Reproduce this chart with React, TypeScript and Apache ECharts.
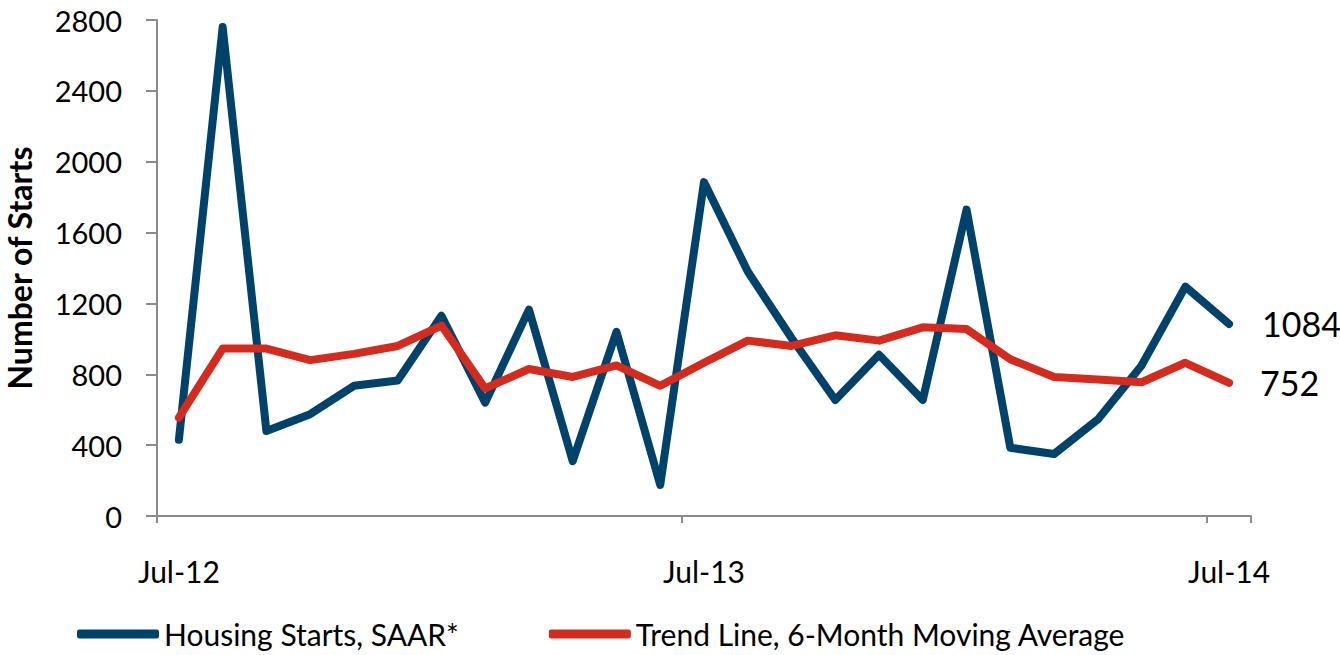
import React, { useEffect, useRef } from "react";
import * as echarts from "echarts";

const months = [
  "Jul-12", "Aug-12", "Sep-12", "Oct-12", "Nov-12", "Dec-12",
  "Jan-13", "Feb-13", "Mar-13", "Apr-13", "May-13", "Jun-13",
  "Jul-13", "Aug-13", "Sep-13", "Oct-13", "Nov-13", "Dec-13",
  "Jan-14", "Feb-14", "Mar-14", "Apr-14", "May-14", "Jun-14", "Jul-14",
];

const housingStarts = [
  430, 2760, 480, 575, 735, 765, 1130, 640, 1165, 310, 1040, 175,
  1885, 1380, 1005, 655, 910, 655, 1730, 385, 350, 545, 850, 1295, 1084,
];

const trendLine = [
  555, 945, 945, 880, 915, 960, 1075, 720, 830, 785, 850, 735,
  865, 990, 960, 1020, 990, 1065, 1055, 885, 785, 770, 755, 865, 752,
];

const yTicks = { min: 0, max: 2800, interval: 400 };

const FONT = "Lato";

export default function App() {
  const ref = useRef<HTMLDivElement>(null);
  useEffect(() => {
    if (!ref.current) return;
    const chart = echarts.init(ref.current, null, { renderer: "svg" });
    const axisGray = "#8a8a8a";
    chart.setOption({
      animation: false,
      backgroundColor: "#ffffff",
      textStyle: { fontFamily: FONT },
      grid: {
        left: 157,
        right: 89,
        top: 20,
        bottom: 139,
        containLabel: false,
        outerBoundsMode: "none",
      },
      legend: {
        left: 77,
        top: 619,
        padding: 0,
        itemGap: 90,
        icon: "roundRect",
        itemWidth: 82,
        itemHeight: 9,
        textStyle: { fontFamily: FONT, fontSize: 30, lineHeight: 30, color: "#000" },
        data: ["Housing Starts, SAAR*", "Trend Line, 6-Month Moving Average"],
      },
      xAxis: {
        type: "category",
        data: months,
        boundaryGap: true,
        axisLine: { lineStyle: { color: axisGray, width: 2 } },
        axisTick: { show: true, interval: 11, length: 7, lineStyle: { color: axisGray, width: 2 } },
        axisLabel: { interval: 11, margin: 40, fontFamily: FONT, fontSize: 30, color: "#000" },
        splitLine: { show: false },
      },
      yAxis: {
        type: "value",
        min: yTicks.min,
        max: yTicks.max,
        interval: yTicks.interval,
        name: "Number of Starts",
        nameLocation: "middle",
        nameGap: 122,
        nameRotate: 90,
        nameTextStyle: { fontFamily: FONT, fontSize: 32, fontWeight: "bold", color: "#000" },
        axisLine: { show: true, lineStyle: { color: axisGray, width: 2 } },
        axisTick: { show: true, length: 11, lineStyle: { color: axisGray, width: 2 } },
        axisLabel: {
          margin: 35,
          fontFamily: FONT,
          fontSize: 29,
          color: "#000",
          formatter: (v: number) => String(v),
        },
        splitLine: { show: false },
      },
      series: [
        {
          name: "Housing Starts, SAAR*",
          type: "line",
          data: housingStarts,
          symbol: "none",
          color: "#00426A",
          lineStyle: { width: 8, color: "#00426A", cap: "round", join: "round" },
          endLabel: {
            show: true,
            formatter: "{c}",
            distance: 33,
            fontFamily: FONT,
            fontSize: 34,
            color: "#000",
          },
          z: 2,
        },
        {
          name: "Trend Line, 6-Month Moving Average",
          type: "line",
          data: trendLine,
          symbol: "none",
          color: "#D52B1E",
          lineStyle: { width: 8, color: "#D52B1E", cap: "round", join: "round" },
          endLabel: {
            show: true,
            formatter: "{c}",
            distance: 31,
            fontFamily: FONT,
            fontSize: 34,
            color: "#000",
          },
          z: 3,
        },
      ],
    });
    return () => chart.dispose();
  }, []);
  return (
    <div
      ref={ref}
      style={{ position: "fixed", left: 0, top: 0, width: 1340, height: 655 }}
    />
  );
}
